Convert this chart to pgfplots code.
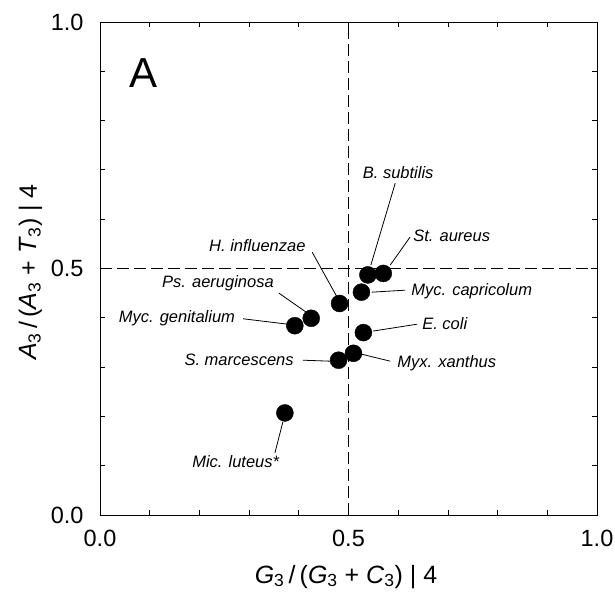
\documentclass[border=0pt]{standalone}
\usepackage{fontspec}
\setmainfont{Liberation Sans}
\usepackage{pgfplots}
\pgfplotsset{compat=1.18}

\newcommand{\spfont}{\fontsize{16.5bp}{18bp}\selectfont\itshape}

\begin{document}
\begin{tikzpicture}
\path[use as bounding box] (-100bp,-83bp) rectangle (515bp,515bp);
\begin{axis}[
  scale only axis,
  width=497bp, height=493bp,
  xmin=0, xmax=1, ymin=0, ymax=1,
  clip=false,
  axis line style={line width=0.8bp},
  tick pos=both,
  tick align=inside,
  xtick={0,0.5,1}, ytick={0,0.5,1},
  minor xtick={0.1,0.2,0.3,0.4,0.6,0.7,0.8,0.9},
  minor ytick={0.1,0.2,0.3,0.4,0.6,0.7,0.8,0.9},
  major tick length=6bp, minor tick length=5bp,
  every tick/.style={black, line width=0.8bp},
  tick label style={font=\fontsize{23.5bp}{25bp}\selectfont},
  /pgf/number format/assume math mode=true,
  xticklabel={\pgfmathprintnumber[fixed,fixed zerofill,precision=1]{\tick}},
  yticklabel={\pgfmathprintnumber[fixed,fixed zerofill,precision=1]{\tick}},
  xticklabel style={yshift=-12bp},
  yticklabel style={xshift=-13bp},
  xlabel={\textit{G}\textsubscript{3}\,/\,(\textit{G}\textsubscript{3} + \textit{C}\textsubscript{3})~|~4},
  ylabel={\textit{A}\textsubscript{3}\,/\,(\textit{A}\textsubscript{3} + \textit{T}\textsubscript{3})~|~4},
  label style={font=\fontsize{25bp}{27bp}\selectfont},
  xlabel style={at={(axis description cs:0.495,-0.125)}, anchor=center},
  ylabel style={at={(axis description cs:-0.14,0.493)}, anchor=center, rotate=0},
]
% reference lines at 0.5
\addplot[black, line width=1.1bp, dash pattern=on 12bp off 5bp] coordinates {(0.5,0) (0.5,1)};
\addplot[black, line width=1.1bp, dash pattern=on 12bp off 5bp] coordinates {(0,0.5) (1,0.5)};

% genomes
\addplot[only marks, mark=*, mark size=8.5bp, black] coordinates {
  (0.539,0.487) % B. subtilis
  (0.570,0.490) % St. aureus
  (0.526,0.452) % Myc. capricolum
  (0.482,0.429) % H. influenzae
  (0.425,0.399) % Ps. aeruginosa
  (0.392,0.384) % Myc. genitalium
  (0.530,0.370) % E. coli
  (0.510,0.328) % Myx. xanthus
  (0.480,0.314) % S. marcescens
  (0.372,0.207) % Mic. luteus
};

% leader lines
\begin{scope}[line width=0.8bp]
\draw (axis cs:0.594,0.673) -- (axis cs:0.545,0.507);
\draw (axis cs:0.624,0.564) -- (axis cs:0.584,0.507);
\draw (axis cs:0.614,0.456) -- (axis cs:0.547,0.452);
\draw (axis cs:0.638,0.387) -- (axis cs:0.549,0.373);
\draw (axis cs:0.584,0.312) -- (axis cs:0.523,0.327);
\draw (axis cs:0.408,0.314) -- (axis cs:0.463,0.312);
\draw (axis cs:0.427,0.533) -- (axis cs:0.477,0.442);
\draw (axis cs:0.360,0.450) -- (axis cs:0.414,0.412);
\draw (axis cs:0.288,0.398) -- (axis cs:0.378,0.387);
\draw (axis cs:0.352,0.126) -- (axis cs:0.368,0.189);
\end{scope}

% species names
\node[font=\spfont, anchor=center] at (axis cs:0.600,0.694) {B. subtilis};
\node[font=\spfont, anchor=west, inner sep=1bp] at (axis cs:0.628,0.566) {St. aureus};
\node[font=\spfont, anchor=west, inner sep=1bp] at (axis cs:0.624,0.454) {Myc. capricolum};
\node[font=\spfont, anchor=west, inner sep=1bp] at (axis cs:0.646,0.389) {E. coli};
\node[font=\spfont, anchor=west, inner sep=1bp] at (axis cs:0.596,0.308) {Myx. xanthus};
\node[font=\spfont, anchor=east, inner sep=1bp] at (axis cs:0.392,0.314) {S. marcescens};
\node[font=\spfont, anchor=east, inner sep=1bp] at (axis cs:0.416,0.546) {H. influenzae};
\node[font=\spfont, anchor=east, inner sep=1bp] at (axis cs:0.352,0.471) {Ps. aeruginosa};
\node[font=\spfont, anchor=east, inner sep=1bp] at (axis cs:0.274,0.400) {Myc. genitalium};
\node[font=\spfont, anchor=center] at (axis cs:0.273,0.108) {Mic. luteus*};

% panel letter
\node[font=\fontsize{42bp}{44bp}\selectfont] at (axis cs:0.087,0.896) {A};
\end{axis}
\end{tikzpicture}
\end{document}
